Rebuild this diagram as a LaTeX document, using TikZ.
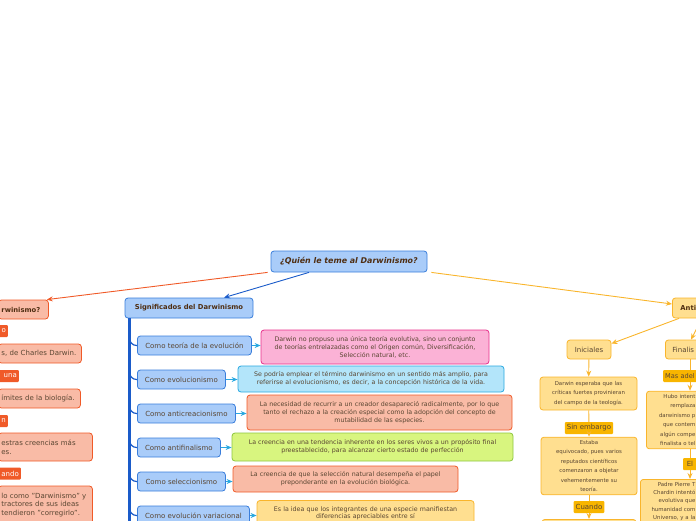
\documentclass[tikz,border=0pt]{standalone}
\usepackage{fontspec}
\setmainfont{DejaVu Sans}
\usepackage{xcolor}
\usepackage{tikz}
\usetikzlibrary{arrows.meta,positioning,calc}
\definecolor{cBlueFill}{HTML}{A9CCF9}
\definecolor{cBlueLine}{HTML}{3A7EDB}
\definecolor{cTrunk}{HTML}{1A5BC9}
\definecolor{cCyan}{HTML}{29A8E0}
\definecolor{cCyanFill}{HTML}{B3E5FA}
\definecolor{cPinkFill}{HTML}{FBB2D6}
\definecolor{cPinkLine}{HTML}{E8308C}
\definecolor{cRedFill}{HTML}{F9BBA6}
\definecolor{cRedLine}{HTML}{F05A28}
\definecolor{cLimeFill}{HTML}{D8F57F}
\definecolor{cLimeLine}{HTML}{8DC63F}
\definecolor{cYelFill}{HTML}{FFDF90}
\definecolor{cYelLine}{HTML}{F9B52C}
\definecolor{cYelTag}{HTML}{F8B500}
\definecolor{cText}{HTML}{5A4632}
\definecolor{cTitle}{HTML}{4F2E12}
\tikzset{
  box/.style 2 args={rounded corners=3pt, draw=#1, fill=#2, line width=0.8pt,
              text=cText, align=center, inner sep=3pt},
  kid/.style={box={cBlueLine}{cBlueFill}, font=\fontsize{7}{8}\selectfont,
              minimum height=19pt, anchor=west},
  note/.style={font=\fontsize{6.3}{8}\selectfont},
  small/.style={font=\fontsize{5.4}{9.5}\selectfont},
  side/.style={font=\fontsize{7}{8.5}\selectfont},
  head/.style={font=\bfseries\fontsize{6.8}{8}\selectfont, text=cTitle},
  tag/.style={fill=#1, rounded corners=1pt, inner xsep=2pt, inner ysep=1pt,
              minimum height=12pt, font=\fontsize{7}{8}\selectfont},
  link/.style={-{Stealth[length=6pt,width=5pt]}, line width=0.9pt, draw=#1},
  join/.style={line width=0.9pt, draw=#1},
  trunk/.style={line width=2.4pt, draw=cTrunk},
  twig/.style={line width=1.2pt, draw=cTrunk, rounded corners=7pt},
}
\begin{document}
\begin{tikzpicture}[x=1pt,y=-1pt]
  \useasboundingbox (0,0) rectangle (696,520);
  \clip (0,0) rectangle (696,520);
  % central topic
  \node[box={cBlueLine}{cBlueFill}, font=\bfseries\itshape\fontsize{7.9}{9}\selectfont,
        text=cTitle, minimum width=156pt, minimum height=21pt] (root) at (349,261.5) {¿Quién le teme al Darwinismo?};

  % middle branch
  \node[box={cBlueLine}{cBlueFill}, head, minimum width=128pt, minimum height=20pt] (sig) at (189,308) {Significados del Darwinismo};
  \node[kid, minimum width=114pt] (teoria) at (137,345.5) {Como teoría de la evolución};
  \node[kid, minimum width=88pt] (evol) at (137,379.5) {Como evolucionismo};
  \node[kid, minimum width=98pt] (anticre) at (137,413.5) {Como anticreacionismo};
  \node[kid, minimum width=83pt] (antifin) at (137,447.5) {Como antifinalismo};
  \node[kid, minimum width=88pt] (selec) at (137,481.5) {Como seleccionismo};
  \node[kid, minimum width=112pt] (variac) at (137,515.5) {Como evolución variacional};

  \node[box={cPinkLine}{cPinkFill}, note, text width=222pt, minimum height=34pt] (dteoria) at (375,347)
    {Darwin no propuso una única teoría evolutiva, sino un conjunto\\de teorías entrelazadas como el Origen común, Diversificación,\\Selección natural, etc.};
  \node[box={cCyan}{cCyanFill}, note, text width=260pt, minimum height=26pt] (devol) at (371,379)
    {Se podría emplear el término darwinismo en un sentido más amplio, para\\referirse al evolucionismo, es decir, a la concepción histórica de la vida.};
  \node[box={cRedLine}{cRedFill}, note, text width=259pt, minimum height=35pt] (danticre) at (379.5,412.5)
    {La necesidad de recurrir a un creador desapareció radicalmente, por lo que\\tanto el rechazo a la creación especial como la adopción del concepto de\\mutabilidad de las especies.};
  \node[box={cLimeLine}{cLimeFill}, note, text width=275pt, minimum height=28pt] (dantifin) at (372.5,447)
    {La creencia en una tendencia inherente en los seres vivos a un propósito final\\preestablecido, para alcanzar cierto estado de perfección};
  \node[box={cRedLine}{cRedFill}, note, text width=219pt, minimum height=26pt] (dselec) at (345.5,479)
    {La creencia de que la selección natural desempeña el papel\\preponderante en la evolución biológica.};
  \node[box={cYelLine}{cYelFill}, font=\fontsize{6.3}{7.4}\selectfont, text width=211pt, minimum height=25pt] (dvariac) at (365.5,513)
    {Es la idea que los integrantes de una especie manifiestan\\diferencias apreciables entre sí};

  \coordinate (trunktop) at ([xshift=5pt]sig.south west);
  \coordinate (trunkend) at (131,530);
  \draw[trunk] (trunktop) -- (trunktop |- trunkend);
  \foreach \k in {teoria,evol,anticre,antifin,selec,variac}
    \draw[twig] (trunktop) |- (\k.west);
  \foreach \a/\b in {teoria/dteoria,evol/devol,anticre/danticre,antifin/dantifin,selec/dselec,variac/dvariac}
    \draw[link=cCyan] (\a.east) -- (\a.east -| \b.west);

  % left branch
  \node[box={cRedLine}{cRedFill}, head, anchor=west, text width=44pt, align=left, minimum height=19pt] (lq) at (-2,309.5) {rwinismo?};
  \node[tag=cRedLine, text=white, anchor=east, text width=30pt, align=right] (lo) at (8,331) {o};
  \node[box={cRedLine}{cRedFill}, side, anchor=west, align=left, text width=77pt, minimum height=19pt] (lcharles) at (-2,353.5) {s, de Charles Darwin.};
  \node[tag=cRedLine, text=white, anchor=east, text width=30pt, align=right] (luna) at (19,376) {una};
  \node[box={cRedLine}{cRedFill}, side, anchor=west, align=left, text width=76pt, minimum height=19pt] (lbiol) at (-2,398.5) {ímites de la biología.};
  \node[tag=cRedLine, text=white, anchor=east, text width=30pt, align=right] (ln) at (8,421) {n};
  \node[box={cRedLine}{cRedFill}, side, anchor=west, align=left, text width=88pt, minimum height=28pt] (lcreen) at (-2,447) {estras creencias más\\es.};
  \node[tag=cRedLine, text=white, anchor=east, text width=30pt, align=right] (lando) at (21,473.5) {ando};
  \node[box={cRedLine}{cRedFill}, side, anchor=west, align=left, text width=88pt, minimum height=38pt] (lcorr) at (-2,505) {lo como "Darwinismo" y\\tractores de sus ideas\\tendieron "corregirlo".};

  % right branch
  \node[box={cYelLine}{cYelFill}, head, anchor=west, align=left, text width=40pt, inner xsep=8pt, minimum height=20pt] (anti) at (672,308) {Anti};
  \node[box={cYelLine}{cYelFill}, side, minimum width=44pt, minimum height=19pt] (ini) at (589,349.5) {Iniciales};
  \node[box={cYelLine}{cYelFill}, side, anchor=west, align=left, text width=40pt, inner xsep=7pt, minimum height=19pt] (fin) at (665,349.5) {Finalis};
  \node[box={cYelLine}{cYelFill}, small, text width=91pt, minimum height=33pt] (ini1) at (588.5,393.5)
    {Darwin esperaba que las\\críticas fuertes provinieran\\del campo de la teología.};
  \node[tag=cYelTag, text=cText] (sinemb) at (589,428) {Sin embargo};
  \node[box={cYelLine}{cYelFill}, small, text width=90pt, minimum height=56pt] (ini2) at (589,466)
    {Estaba\\equivocado, pues varios\\reputados científicos\\comenzaron a objetar\\vehementemente su\\teoría.};
  \node[tag=cYelTag, text=cText] (cuando) at (589,507) {Cuando};
  \node[box={cYelLine}{cYelFill}, anchor=north, minimum width=94pt, minimum height=30pt] (ini3) at (589,519) {};

  \node[tag=cYelTag, text=cText, anchor=west, text width=40pt, align=left, inner xsep=2pt, font=\fontsize{6.6}{8}\selectfont] (masadel) at (663,376) {Mas adel};
  \node[box={cYelLine}{cYelFill}, small, anchor=west, align=right, text width=46pt, minimum height=56pt] (fin1) at (646,420)
    {Hubo intent\\remplaza\\darwinismo p\\que contem\\algún compe\\finalista o tel};
  \node[tag=cYelTag, text=cText, minimum width=14pt] (el) at (690,464) {El};
  \node[box={cYelLine}{cYelFill}, font=\fontsize{5.4}{8.4}\selectfont, anchor=north west, align=right, text width=52pt, minimum height=44pt, inner ysep=2pt] (fin2) at (640,479)
    {Padre Pierre T\\Chardin intentó\\evolutiva que\\humanidad com\\Universo, y a la};

  % connectors
  \draw[link=cRedLine] ([xshift=-3pt]root.south west) -- ([xshift=-2pt]lq.north east);
  \draw[link=cTrunk] ([xshift=-40pt]root.south) -- ([xshift=35pt]sig.north);
  \draw[link=cYelLine] ([xshift=4pt]root.south east) -- ([yshift=4pt]anti.west);
  \draw[link=cYelLine] ([xshift=7pt]anti.south west) -- ([yshift=-4pt]ini.north east);
  \draw[link=cYelLine] ([xshift=30pt]anti.south west) -- ([xshift=26pt]fin.north west);
  \draw[link=cYelLine] (ini) -- (ini1);
  \draw[join=cYelLine] (ini1) -- (sinemb);
  \draw[link=cYelLine] (sinemb) -- (ini2);
  \draw[join=cYelLine] (ini2) -- (cuando);
  \draw[link=cYelLine] (cuando) -- (ini3);
  \draw[join=cYelLine] (fin.south -| el) -- (masadel.north -| el);
  \draw[link=cYelLine] (masadel.south -| el) -- (fin1.north -| el);
  \draw[join=cYelLine] (fin1.south -| el) -- (el);
  \draw[link=cYelLine] (el) -- (fin2.north -| el);
\end{tikzpicture}
\end{document}
